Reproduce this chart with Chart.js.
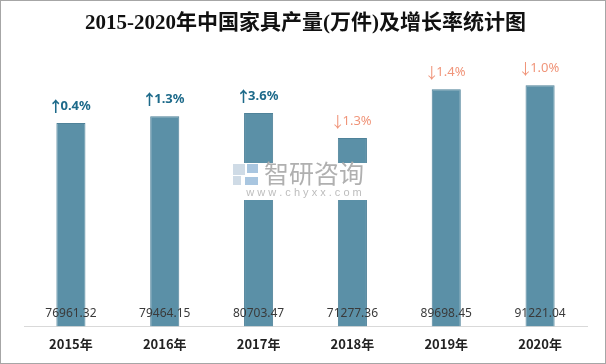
<!DOCTYPE html>
<html>
<head>
<meta charset="utf-8">
<script src="https://cdn.jsdelivr.net/npm/chart.js@4"></script>
<style>
  html, body { margin: 0; padding: 0; background: #fff; }
  #wrap { width: 606px; height: 364px; box-sizing: border-box; border: 1px solid #a6a6a6; position: relative; }
  canvas { display: block; }
</style>
</head>
<body>
<div id="wrap"><canvas id="myChart" width="604" height="362"></canvas></div>
<script>
const years = ['2015年', '2016年', '2017年', '2018年', '2019年', '2020年'];
const output = [76961.32, 79464.15, 80703.47, 71277.36, 89698.45, 91221.04];
const growth = [0.4, 1.3, 3.6, -1.3, -1.4, -1.0];

// arrow + number, drawn as two pieces so the arrow can use a taller glyph
function drawGrowth(ctx, g, x, y) {
    const up = g >= 0;
    const arrow = up ? '↑' : '↓';
    const txt = Math.abs(g).toFixed(1) + '%';
    const numFont = (up ? 'bold ' : '') + '13px "Noto Sans", "Liberation Sans", sans-serif';
    const arrFont = (up ? 'bold ' : '') + '15px "Noto Sans CJK SC", sans-serif';
    ctx.font = arrFont;
    const aw = ctx.measureText(arrow).width * 0.62;
    ctx.font = numFont;
    const tw = ctx.measureText(txt).width;
    const x0 = x - (aw + tw) / 2;
    ctx.fillStyle = up ? '#1d6a8a' : '#f0957a';
    ctx.textAlign = 'left';
    ctx.font = arrFont;
    ctx.fillText(arrow, x0 - ctx.measureText(arrow).width * 0.19, y);
    ctx.font = numFont;
    ctx.fillText(txt, x0 + aw, y);
}

const barLabels = {
    id: 'barLabels',
    afterDatasetsDraw(chart) {
        const ctx = chart.ctx;
        const meta = chart.getDatasetMeta(0);
        const bottom = chart.scales.x.top;
        ctx.save();
        ctx.textBaseline = 'middle';
        meta.data.forEach((bar, i) => {
            ctx.textAlign = 'center';
            ctx.font = '12px "Noto Sans", "Liberation Sans", sans-serif';
            ctx.fillStyle = '#3a3a3a';
            ctx.fillText(output[i].toFixed(2), bar.x, bottom - 13);
            drawGrowth(ctx, growth[i], bar.x, bar.y - 17);
        });
        ctx.restore();
    },
    afterDraw(chart) {
        // watermark
        const ctx = chart.ctx;
        ctx.save();
        ctx.fillStyle = '#ffffff';
        ctx.fillRect(232, 162, 144, 37);
        ctx.fillStyle = '#cfdbe6';
        ctx.fillRect(232, 163, 12, 11);
        ctx.fillRect(232, 175, 8, 9);
        ctx.fillStyle = '#a9c6e0';
        ctx.fillRect(246, 163, 11, 9);
        ctx.fillRect(244, 176, 13, 8);
        ctx.fillStyle = '#b0b0b0';
        ctx.font = '25px "Noto Sans CJK SC", sans-serif';
        ctx.textAlign = 'left';
        ctx.textBaseline = 'middle';
        ctx.fillText('智研咨询', 263, 172);
        ctx.font = '11px "Liberation Sans", sans-serif';
        ctx.fillStyle = '#bdbdbd';
        ctx.textAlign = 'center';
        ctx.fillText('w w w . c h y x x . c o m', 303, 192);
        ctx.restore();
    }
};

const ctx = document.getElementById('myChart').getContext('2d');
const myChart = new Chart(ctx, {
    type: 'bar',
    data: {
        labels: years,
        datasets: [{
            data: output,
            backgroundColor: '#5b90a7',
            borderColor: '#4f8299',
            borderWidth: 1,
            barPercentage: 0.31,
            categoryPercentage: 1
        }]
    },
    options: {
        responsive: false,
        animation: false,
        layout: {
            padding: { left: 23, right: 18, top: 0, bottom: 1 }
        },
        scales: {
            x: {
                grid: { display: false, drawTicks: false },
                border: { display: true, color: '#d9d9d9', width: 1 },
                ticks: {
                    color: '#222',
                    padding: 10,
                    font: { family: '"Noto Sans CJK SC", sans-serif', size: 13, weight: 'bold' }
                }
            },
            y: {
                display: false,
                min: 0,
                max: 106000
            }
        },
        plugins: {
            legend: { display: false },
            tooltip: { enabled: false },
            title: {
                display: true,
                text: '2015-2020年中国家具产量(万件)及增长率统计图',
                color: '#111',
                padding: { top: 10, bottom: 10 },
                font: { family: '"Liberation Serif", "Noto Sans CJK SC", serif', size: 21, weight: 'bold' }
            }
        }
    },
    plugins: [barLabels]
});
</script>
</body>
</html>
